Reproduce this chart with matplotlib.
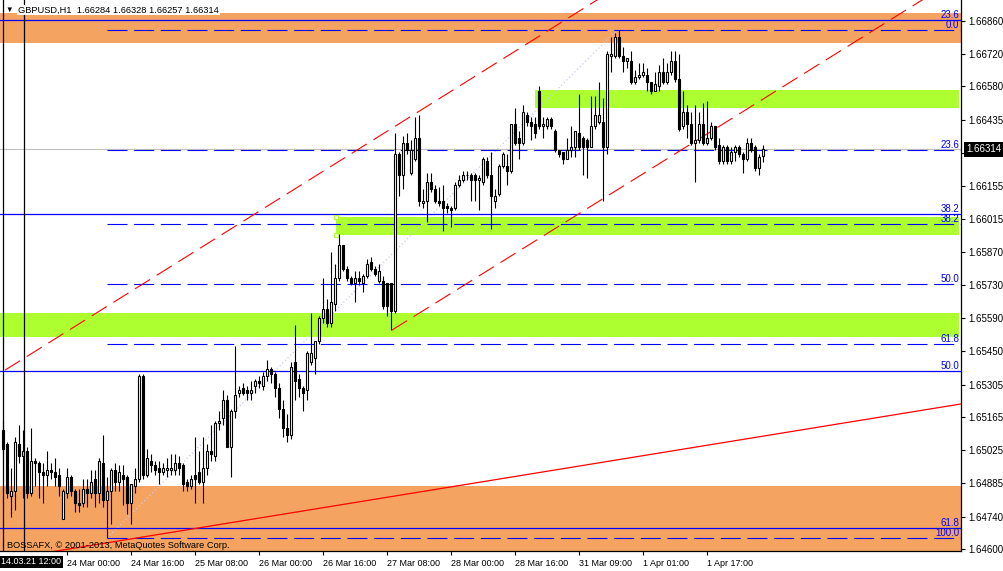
import numpy as np
import matplotlib
matplotlib.use("Agg")
import matplotlib.pyplot as plt
from matplotlib.patches import Rectangle

plt.rcParams['font.family'] = ['Liberation Sans', 'DejaVu Sans']

# --------------------------------------------------------------------------- #
# GBPUSD H1 candles (bar index 0..190)
# --------------------------------------------------------------------------- #
opens = [1.6511, 1.6505, 1.6483, 1.6485, 1.6505, 1.6500, 1.6502, 1.6484, 1.6498, 1.6497,
         1.6493, 1.6492, 1.6494, 1.6493, 1.6492, 1.6473, 1.6484, 1.6491, 1.6485, 1.6480,
         1.6480, 1.6486, 1.6484, 1.6490, 1.6484, 1.6497, 1.6481, 1.6485, 1.6494, 1.6489,
         1.6492, 1.6491, 1.6480, 1.6487, 1.6490, 1.6534, 1.6492, 1.6498, 1.6496, 1.6495,
         1.6493, 1.6494, 1.6494, 1.6494, 1.6497, 1.6496, 1.6489, 1.6487, 1.6492, 1.6493,
         1.6489, 1.6495, 1.6502, 1.6500, 1.6514, 1.6516, 1.6524, 1.6504, 1.6519, 1.6527,
         1.6529, 1.6528, 1.6527, 1.6530, 1.6532, 1.6530, 1.6534, 1.6537, 1.6535, 1.6529,
         1.6520, 1.6512, 1.6509, 1.6540, 1.6533, 1.6529, 1.6528, 1.6540, 1.6542, 1.6549,
         1.6559, 1.6563, 1.6557, 1.6565, 1.6576, 1.6590, 1.6580, 1.6576, 1.6574, 1.6576,
         1.6574, 1.6577, 1.6583, 1.6580, 1.6575, 1.6575, 1.6574, 1.6574, 1.6562, 1.6629,
         1.6620, 1.6634, 1.6621, 1.6627, 1.6636, 1.6608, 1.6609, 1.6617, 1.6614, 1.6609,
         1.6609, 1.6607, 1.6606, 1.6606, 1.6616, 1.6618, 1.6620, 1.6620, 1.6620, 1.6618,
         1.6617, 1.6626, 1.6620, 1.6609, 1.6612, 1.6624, 1.6624, 1.6622, 1.6642, 1.6636,
         1.6634, 1.6646, 1.6643, 1.6642, 1.6656, 1.6641, 1.6641, 1.6644, 1.6639, 1.6631,
         1.6630, 1.6627, 1.6631, 1.6632, 1.6638, 1.6636, 1.6635, 1.6632, 1.6641, 1.6643,
         1.6643, 1.6632, 1.6671, 1.6671, 1.6679, 1.6671, 1.6669, 1.6669, 1.6660, 1.6662,
         1.6663, 1.6663, 1.6660, 1.6656, 1.6658, 1.6664, 1.6660, 1.6664, 1.6669, 1.6661,
         1.6641, 1.6647, 1.6642, 1.6634, 1.6635, 1.6642, 1.6634, 1.6636, 1.6641, 1.6633,
         1.6626, 1.6632, 1.6626, 1.6630, 1.6632, 1.6629, 1.6627, 1.6634, 1.6632, 1.6623,
         1.66284]
highs = [1.6515, 1.6506, 1.6495, 1.6508, 1.6513, 1.6511, 1.6504, 1.6512, 1.6499, 1.6498,
         1.6497, 1.6502, 1.6497, 1.6499, 1.6495, 1.6486, 1.6495, 1.6492, 1.6486, 1.6486,
         1.6490, 1.6490, 1.6494, 1.6494, 1.6499, 1.6509, 1.6491, 1.6495, 1.6497, 1.6496,
         1.6496, 1.6492, 1.6488, 1.6495, 1.6535, 1.6535, 1.6503, 1.6501, 1.6498, 1.6498,
         1.6497, 1.6499, 1.6501, 1.6501, 1.6500, 1.6497, 1.6490, 1.6492, 1.6508, 1.6502,
         1.6508, 1.6505, 1.6513, 1.6515, 1.6519, 1.6528, 1.6526, 1.6520, 1.6547, 1.6530,
         1.6531, 1.6530, 1.6532, 1.6533, 1.6534, 1.6536, 1.6541, 1.6538, 1.6536, 1.6531,
         1.6524, 1.6518, 1.6540, 1.6556, 1.6535, 1.6530, 1.6545, 1.6561, 1.6549, 1.6560,
         1.6576, 1.6567, 1.6587, 1.6582, 1.6595, 1.6590, 1.6581, 1.6577, 1.6579, 1.6579,
         1.6578, 1.6584, 1.6585, 1.6581, 1.6582, 1.6577, 1.6574, 1.6574, 1.6638, 1.6630,
         1.6637, 1.6638, 1.6635, 1.6645, 1.6646, 1.6614, 1.6621, 1.6621, 1.6616, 1.6615,
         1.6616, 1.6608, 1.6607, 1.6617, 1.6620, 1.6622, 1.6622, 1.6621, 1.6621, 1.6620,
         1.6628, 1.6628, 1.6630, 1.6614, 1.6625, 1.6630, 1.6629, 1.6642, 1.6649, 1.6639,
         1.6650, 1.6647, 1.6645, 1.6645, 1.6658, 1.6645, 1.6645, 1.6645, 1.6640, 1.6631,
         1.6630, 1.6636, 1.6641, 1.6639, 1.6655, 1.6637, 1.6636, 1.6654, 1.6654, 1.6660,
         1.6653, 1.6673, 1.6679, 1.6681, 1.6682, 1.6675, 1.6670, 1.6673, 1.6665, 1.6668,
         1.6668, 1.6666, 1.6660, 1.6664, 1.6667, 1.6670, 1.6668, 1.6673, 1.6673, 1.6672,
         1.6656, 1.6650, 1.6647, 1.6650, 1.6647, 1.6651, 1.6652, 1.6643, 1.6641, 1.6636,
         1.6633, 1.6633, 1.6632, 1.6633, 1.6633, 1.6630, 1.6636, 1.6636, 1.6633, 1.6629,
         1.66328]
lows = [1.6500, 1.6482, 1.6474, 1.6477, 1.6497, 1.6482, 1.6482, 1.6483, 1.6487, 1.6482,
        1.6480, 1.6487, 1.6490, 1.6487, 1.6483, 1.6473, 1.6482, 1.6483, 1.6476, 1.6476,
        1.6478, 1.6478, 1.6482, 1.6478, 1.6480, 1.6478, 1.6465, 1.6471, 1.6485, 1.6485,
        1.6479, 1.6475, 1.6471, 1.6484, 1.6489, 1.6490, 1.6491, 1.6493, 1.6492, 1.6488,
        1.6492, 1.6491, 1.6492, 1.6492, 1.6492, 1.6485, 1.6485, 1.6486, 1.6480, 1.6488,
        1.6480, 1.6492, 1.6498, 1.6498, 1.6511, 1.6513, 1.6504, 1.6491, 1.6516, 1.6525,
        1.6526, 1.6524, 1.6524, 1.6527, 1.6529, 1.6528, 1.6532, 1.6531, 1.6525, 1.6516,
        1.6508, 1.6506, 1.6507, 1.6524, 1.6525, 1.6519, 1.6524, 1.6539, 1.6535, 1.6548,
        1.6557, 1.6555, 1.6555, 1.6562, 1.6575, 1.6579, 1.6575, 1.6573, 1.6566, 1.6573,
        1.6570, 1.6576, 1.6579, 1.6577, 1.6574, 1.6563, 1.6560, 1.6554, 1.6561, 1.6611,
        1.6614, 1.6629, 1.6620, 1.6626, 1.6607, 1.6606, 1.6600, 1.6613, 1.6608, 1.6607,
        1.6596, 1.6604, 1.6598, 1.6605, 1.6615, 1.6617, 1.6618, 1.6609, 1.6609, 1.6605,
        1.6616, 1.6619, 1.6597, 1.6606, 1.6611, 1.6623, 1.6616, 1.6621, 1.6633, 1.6627,
        1.6633, 1.6641, 1.6635, 1.6636, 1.6640, 1.6636, 1.6640, 1.6640, 1.6630, 1.6628,
        1.6625, 1.6627, 1.6628, 1.6628, 1.6631, 1.6620, 1.6619, 1.6632, 1.6640, 1.6642,
        1.6609, 1.6629, 1.6664, 1.6670, 1.6670, 1.6664, 1.6666, 1.6659, 1.6659, 1.6661,
        1.6662, 1.6656, 1.6655, 1.6656, 1.6656, 1.6659, 1.6659, 1.6663, 1.6660, 1.6639,
        1.6640, 1.6636, 1.6633, 1.6617, 1.6634, 1.6633, 1.6633, 1.6635, 1.6631, 1.6625,
        1.6625, 1.6625, 1.6625, 1.6626, 1.6628, 1.6621, 1.6626, 1.6630, 1.6622, 1.6620,
        1.66257]
closes = [1.6503, 1.6484, 1.6485, 1.6506, 1.6500, 1.6502, 1.6484, 1.6498, 1.6497, 1.6493,
          1.6492, 1.6494, 1.6493, 1.6491, 1.6487, 1.6485, 1.6491, 1.6485, 1.6480, 1.6479,
          1.6486, 1.6484, 1.6489, 1.6484, 1.6498, 1.6481, 1.6485, 1.6494, 1.6489, 1.6493,
          1.6490, 1.6480, 1.6488, 1.6490, 1.6534, 1.6492, 1.6499, 1.6496, 1.6494, 1.6493,
          1.6495, 1.6495, 1.6495, 1.6497, 1.6495, 1.6488, 1.6487, 1.6490, 1.6490, 1.6489,
          1.6495, 1.6502, 1.6501, 1.6514, 1.6515, 1.6524, 1.6504, 1.6519, 1.6526, 1.6528,
          1.6527, 1.6527, 1.6528, 1.6532, 1.6531, 1.6534, 1.6537, 1.6535, 1.6529, 1.6520,
          1.6512, 1.6509, 1.6538, 1.6532, 1.6529, 1.6527, 1.6544, 1.6544, 1.6549, 1.6559,
          1.6563, 1.6557, 1.6566, 1.6576, 1.6590, 1.6580, 1.6576, 1.6574, 1.6576, 1.6575,
          1.6577, 1.6582, 1.6580, 1.6578, 1.6579, 1.6564, 1.6564, 1.6562, 1.6629, 1.6620,
          1.6634, 1.6631, 1.6631, 1.6636, 1.6609, 1.6609, 1.6617, 1.6614, 1.6609, 1.6608,
          1.6606, 1.6606, 1.6605, 1.6616, 1.6618, 1.6620, 1.6620, 1.6618, 1.6618, 1.6619,
          1.6627, 1.6620, 1.6611, 1.6611, 1.6624, 1.6629, 1.6622, 1.6642, 1.6634, 1.6634,
          1.6647, 1.6643, 1.6641, 1.6638, 1.6641, 1.6642, 1.6644, 1.6641, 1.6631, 1.6629,
          1.6627, 1.6631, 1.6632, 1.6639, 1.6632, 1.6632, 1.6632, 1.6641, 1.6646, 1.6646,
          1.6632, 1.6672, 1.6672, 1.6679, 1.6671, 1.6669, 1.6670, 1.6660, 1.6662, 1.6663,
          1.6664, 1.6660, 1.6656, 1.6659, 1.6664, 1.6660, 1.6664, 1.6669, 1.6661, 1.6640,
          1.6647, 1.6642, 1.6634, 1.6635, 1.6642, 1.6634, 1.6636, 1.6641, 1.6632, 1.6626,
          1.6632, 1.6626, 1.6630, 1.6632, 1.6629, 1.6627, 1.6634, 1.6631, 1.6623, 1.6628,
          1.66314]

# time axis labels (every 16 bars)
xtick_pos = [16, 32, 48, 64, 80, 96, 112, 128, 144, 160, 176]
xtick_labels = ["24 Mar 00:00", "24 Mar 16:00", "25 Mar 08:00", "26 Mar 00:00",
                "26 Mar 16:00", "27 Mar 08:00", "28 Mar 00:00", "28 Mar 16:00",
                "31 Mar 09:00", "1 Apr 01:00", "1 Apr 17:00"]

# price axis labels (1.66295 sits under the current-price box)
ytick_vals = [1.66860, 1.66720, 1.66580, 1.66435, 1.66295, 1.66155, 1.66015, 1.65870,
              1.65730, 1.65590, 1.65450, 1.65305, 1.65165, 1.65025, 1.64885, 1.64740,
              1.64600]
hidden_tick = 1.66295

# zones: (start bar, end bar, low, high)
orange_zones = [(-1, 240, 1.66766, 1.66894), (-1, 240, 1.64500, 1.64871)]
green_zones = [(133.0, 239.0, 1.66488, 1.66565), (83.25, 239.0, 1.65945, 1.66022),
               (-1, 239.0, 1.65508, 1.65611)]

# Fibonacci A (dashed, drawn from bar 26 low to bar 153.5 high)
fibA_start = 26
fibA_end = 153.5
fibA_low = 1.64648
fibA_high = 1.66822
fibA_levels = [0.0, 23.6, 38.2, 50.0, 61.8, 100.0]

# Fibonacci B (solid, full width)
fibB_levels = [23.6, 38.2, 50.0, 61.8]
fibB_zero = 1.68206
fibB_hundred = 1.62521

# red channel / trend lines: two anchor points each (bar, price)
chan_up = [(1.75, 1.65380), (138.5, 1.66843)]
chan_lo = [(97.25, 1.65538), (225.75, 1.66907)]
trend = [(31.75, 1.64644), (239.5, 1.65222)]
chan_up_start = 0.5

bid = 1.66314
vline_bar = 5.25

# --------------------------------------------------------------------------- #
W, H = 1004, 571
fig = plt.figure(figsize=(W / 100, H / 100), dpi=100)
ax = fig.add_axes([0, 20 / H, 961 / W, 551 / H])
ax.set_xlim(-0.75, 239.5)
ax.set_ylim(1.64593, 1.66950)

BLUE = "#0000FF"
RED = "#FF0000"
ORANGE = "#F4A460"
GREEN = "#ADFF2F"

for x0, x1, lo, hi in orange_zones:
    ax.add_patch(Rectangle((x0, lo), x1 - x0, hi - lo, facecolor=ORANGE,
                           edgecolor="none", zorder=1))
for x0, x1, lo, hi in green_zones:
    ax.add_patch(Rectangle((x0, lo), x1 - x0, hi - lo, facecolor=GREEN,
                           edgecolor="none", zorder=1))
# selection handles on the middle green zone
ax.plot([83.25, 83.25], [1.66022, 1.65945], ls="none", marker="s", ms=3.5,
        mfc="white", mec=GREEN, mew=0.8, zorder=6)

# bid line
ax.axhline(bid, color="#C0C0C0", lw=0.8, zorder=2)

# Fibonacci A
for lv in fibA_levels:
    p = fibA_high - (fibA_high - fibA_low) * lv / 100.0
    ax.plot([fibA_start, 260], [p, p], color=BLUE, lw=0.8, ls=(0, (18, 6)), zorder=4)
    ax.text(239.0, p, f"{lv:.1f}", color=BLUE, fontsize=7, ha="right",
            va="bottom", zorder=7)
ax.plot([fibA_start, fibA_end], [fibA_low, fibA_high], color="#C8C8F5", lw=0.9,
        ls=(0, (1, 2)), zorder=3)

# Fibonacci B
for lv in fibB_levels:
    p = fibB_zero - (fibB_zero - fibB_hundred) * lv / 100.0
    ax.axhline(p, color=BLUE, lw=0.9, zorder=4)
    ax.text(239.0, p, f"{lv:.1f}", color=BLUE, fontsize=7, ha="right",
            va="bottom", zorder=7)


def ext_line(pts, x_from, x_to=260, **kw):
    (xa, ya), (xb, yb) = pts
    k = (yb - ya) / (xb - xa)
    ax.plot([x_from, x_to], [ya + k * (x_from - xa), ya + k * (x_to - xa)], **kw)


ext_line(chan_up, chan_up_start, color=RED, lw=0.8, ls=(0, (16, 7)), zorder=4)
ext_line(chan_lo, chan_lo[0][0], color=RED, lw=0.8, ls=(0, (16, 7)), zorder=4)
ext_line(trend, -5, color=RED, lw=0.9, zorder=4)

# candles
o = np.array(opens); h = np.array(highs); l = np.array(lows); c = np.array(closes)
x = np.arange(len(o))
ax.vlines(x, l, h, color="black", lw=0.8, zorder=5)
up = c >= o
body = np.maximum(np.abs(c - o), 1e-6)
ax.bar(x, body, bottom=np.minimum(o, c), width=0.6,
       color=np.where(up, "white", "black"), edgecolor="black", lw=0.8, zorder=5)

# vertical lines
ax.axvline(vline_bar, color="black", lw=0.9, zorder=6)
ax.axvline(-0.125, color="black", lw=0.9, zorder=6)

# axes styling
for s in ["top", "left"]:
    ax.spines[s].set_visible(False)
for s in ["right", "bottom"]:
    ax.spines[s].set_linewidth(0.9)
ax.yaxis.tick_right()
ax.set_yticks(ytick_vals)
ax.set_yticklabels(["" if v == hidden_tick else f"{v:.5f}" for v in ytick_vals])
ax.set_xticks(xtick_pos)
ax.set_xticklabels(xtick_labels, ha="left")
ax.tick_params(axis="y", direction="out", length=3, width=0.8, labelsize=7, pad=2)
ax.tick_params(axis="x", direction="out", length=3, width=0.8, labelsize=6.5, pad=3)

# texts
def fx(px):
    return px / W


def fy(py):
    return 1 - py / H


fig.text(fx(5), fy(10), "\u25bc", fontsize=5.5, va="center", ha="left")
fig.text(fx(18), fy(10), "GBPUSD,H1  1.66284 1.66328 1.66257 1.66314", fontsize=6.7,
         va="center", ha="left",
         bbox=dict(facecolor="white", edgecolor="none", pad=0.6))
fig.text(fx(7), fy(545), "BOSSAFX, \u00a9 2001-2013, MetaQuotes Software Corp.",
         fontsize=6.7, va="center", ha="left", zorder=8)
fig.text(fx(1), fy(562), "14.03.21 12:00", fontsize=6.5, color="white",
         va="center", ha="left",
         bbox=dict(facecolor="black", edgecolor="none", pad=1.2))
fig.text(fx(966), fy(149.5), "1.66314", fontsize=7, color="white",
         va="center", ha="left",
         bbox=dict(facecolor="black", edgecolor="none", pad=1.5))

fig.savefig("out.png", dpi=100, facecolor="white")
